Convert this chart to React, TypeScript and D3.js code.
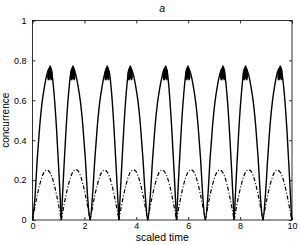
import * as React from "react"
import * as d3 from "d3"

// sampling grid: 12 samples per half-period (1.11 scaled time units)
const timeStep = 0.0925
const sampleCount = 109

// solid line: concurrence, pairs of skewed humps
const solidConc = [
  0, 0.11, 0.31, 0.47, 0.59, 0.67, 0.73, 0.76, 0.74, 0.63, 0.46, 0.24,
  0, 0.24, 0.46, 0.63, 0.74, 0.76, 0.73, 0.67, 0.59, 0.47, 0.31, 0.11,
  0, 0.12, 0.31, 0.47, 0.59, 0.67, 0.73, 0.76, 0.74, 0.63, 0.45, 0.23,
  0, 0.23, 0.45, 0.63, 0.74, 0.76, 0.73, 0.67, 0.59, 0.47, 0.31, 0.12,
  0, 0.11, 0.3, 0.46, 0.58, 0.66, 0.72, 0.76, 0.75, 0.64, 0.46, 0.24,
  0, 0.24, 0.46, 0.63, 0.74, 0.76, 0.73, 0.67, 0.59, 0.47, 0.31, 0.11,
  0, 0.11, 0.31, 0.47, 0.59, 0.67, 0.73, 0.76, 0.74, 0.63, 0.46, 0.24,
  0, 0.24, 0.46, 0.63, 0.74, 0.76, 0.73, 0.67, 0.59, 0.47, 0.31, 0.11,
  0, 0.12, 0.31, 0.48, 0.6, 0.68, 0.74, 0.76, 0.73, 0.62, 0.45, 0.23,
  0,
]

// indices where the solid line has a sharp V (zero crossing)
const solidBreaks = [0, 12, 36, 60, 84, 108]

// dash-dot line
const dashConc = [
  0, 0.065, 0.125, 0.177, 0.217, 0.242, 0.25, 0.243, 0.219, 0.18, 0.127, 0.066,
  0, 0.066, 0.127, 0.179, 0.219, 0.244, 0.253, 0.246, 0.221, 0.18, 0.127, 0.066,
  0, 0.065, 0.125, 0.177, 0.217, 0.242, 0.25, 0.243, 0.219, 0.18, 0.127, 0.066,
  0, 0.066, 0.127, 0.179, 0.219, 0.244, 0.252, 0.245, 0.22, 0.179, 0.126, 0.065,
  0, 0.065, 0.125, 0.177, 0.217, 0.242, 0.25, 0.243, 0.219, 0.18, 0.127, 0.066,
  0, 0.066, 0.127, 0.179, 0.219, 0.244, 0.252, 0.245, 0.22, 0.179, 0.126, 0.065,
  0, 0.065, 0.125, 0.177, 0.217, 0.242, 0.25, 0.243, 0.219, 0.18, 0.127, 0.066,
  0, 0.066, 0.127, 0.179, 0.219, 0.244, 0.252, 0.245, 0.22, 0.179, 0.126, 0.065,
  0, 0.065, 0.125, 0.177, 0.217, 0.242, 0.25, 0.243, 0.219, 0.18, 0.127, 0.066,
  0,
]

// fast oscillation smeared at the top of each solid hump
const peakTimes = [0.67, 1.55, 2.87, 3.76, 5.12, 5.98, 7.33, 8.2, 9.54]
const blobOffset = [
  -0.08, -0.07, -0.06, -0.05, -0.04, -0.03, -0.02, -0.01, 0, 0.01, 0.02, 0.03, 0.04, 0.05, 0.06, 0.07, 0.08,
]
const blobConc = [
  0.71, 0.745, 0.7, 0.755, 0.7, 0.762, 0.705, 0.768, 0.71, 0.774, 0.71, 0.768, 0.705, 0.76, 0.7, 0.75, 0.71,
]

const xTicks = [0, 2, 4, 6, 8, 10]
const yTicks = [0, 0.2, 0.4, 0.6, 0.8, 1]

const width = 300
const height = 245
const margin = { top: 20.5, right: 8, bottom: 25, left: 32.5 }
const font = "'Liberation Sans', Arial, Helvetica, sans-serif"

type Pt = [number, number]

export default function App() {
  const svgRef = React.useRef<SVGSVGElement>(null)

  React.useEffect(() => {
    if (!svgRef.current) return
    const svg = d3.select(svgRef.current)
    svg.selectAll("*").remove()

    const x = d3.scaleLinear().domain([0, 10]).range([margin.left, width - margin.right])
    const y = d3.scaleLinear().domain([0, 1]).range([height - margin.bottom, margin.top])

    const time = d3.range(sampleCount).map((i) => i * timeStep)

    const line = d3
      .line<Pt>()
      .x((d) => x(d[0]))
      .y((d) => y(d[1]))
      .curve(d3.curveMonotoneX)

    const plot = svg.append("g")

    // solid series, split at the sharp zeros
    for (let s = 0; s < solidBreaks.length - 1; s++) {
      const pts: Pt[] = []
      for (let i = solidBreaks[s]; i <= solidBreaks[s + 1]; i++) pts.push([time[i], solidConc[i]])
      plot.append("path").attr("d", line(pts)).attr("fill", "none").attr("stroke", "#000").attr("stroke-width", 1.4)
    }

    // peak smear
    const zig = d3.line<Pt>().x((d) => x(d[0])).y((d) => y(d[1]))
    peakTimes.forEach((pt) => {
      const pts: Pt[] = blobOffset.map((o, j) => [pt + o, blobConc[j]])
      plot.append("path").attr("d", zig(pts)).attr("fill", "none").attr("stroke", "#000").attr("stroke-width", 1.5)
    })

    // dash-dot series, one path per hump
    for (let h = 0; h < 9; h++) {
      const pts: Pt[] = []
      for (let i = h * 12; i <= h * 12 + 12; i++) pts.push([time[i], dashConc[i]])
      plot
        .append("path")
        .attr("d", line(pts))
        .attr("fill", "none")
        .attr("stroke", "#000")
        .attr("stroke-width", 1.2)
        .attr("stroke-dasharray", "4,2,1,2")
    }

    // frame
    svg
      .append("rect")
      .attr("x", x(0))
      .attr("y", y(1))
      .attr("width", x(10) - x(0))
      .attr("height", y(0) - y(1))
      .attr("fill", "none")
      .attr("stroke", "#000")
      .attr("stroke-width", 0.8)

    const styleAxis = (g: d3.Selection<SVGGElement, unknown, null, undefined>) => {
      g.select(".domain").remove()
      g.selectAll(".tick line").attr("stroke", "#000").attr("stroke-width", 0.8)
      g.selectAll("text").attr("fill", "#000").style("font-size", "9px").style("font-family", font)
    }

    svg
      .append("g")
      .attr("transform", `translate(0,${y(0)})`)
      .call(d3.axisBottom(x).tickValues(xTicks).tickSize(-3).tickPadding(3).tickFormat((d) => String(d)))
      .call(styleAxis)
    svg
      .append("g")
      .attr("transform", `translate(0,${y(1)})`)
      .call(d3.axisTop(x).tickValues(xTicks).tickSize(-3).tickFormat(() => ""))
      .call(styleAxis)
    svg
      .append("g")
      .attr("transform", `translate(${x(0)},0)`)
      .call(d3.axisLeft(y).tickValues(yTicks).tickSize(-3).tickPadding(6).tickFormat((d) => String(d)))
      .call(styleAxis)
    svg
      .append("g")
      .attr("transform", `translate(${x(10)},0)`)
      .call(d3.axisRight(y).tickValues(yTicks).tickSize(-3).tickFormat(() => ""))
      .call(styleAxis)

    svg
      .append("text")
      .attr("x", (x(0) + x(10)) / 2)
      .attr("y", 241)
      .attr("text-anchor", "middle")
      .style("font-family", font)
      .style("font-size", "10.5px")
      .text("scaled time")

    svg
      .append("text")
      .attr("transform", `translate(9,${(y(0) + y(1)) / 2}) rotate(-90)`)
      .attr("text-anchor", "middle")
      .style("font-family", font)
      .style("font-size", "10px")
      .text("concurrence")

    svg
      .append("text")
      .attr("x", (x(0) + x(10)) / 2)
      .attr("y", 11.5)
      .attr("text-anchor", "middle")
      .style("font-family", font)
      .style("font-size", "10.5px")
      .style("font-style", "italic")
      .text("a")
  }, [])

  return (
    <svg
      ref={svgRef}
      width={width}
      height={height}
      style={{ position: "absolute", left: 0, top: 0, background: "#fff" }}
    />
  )
}
